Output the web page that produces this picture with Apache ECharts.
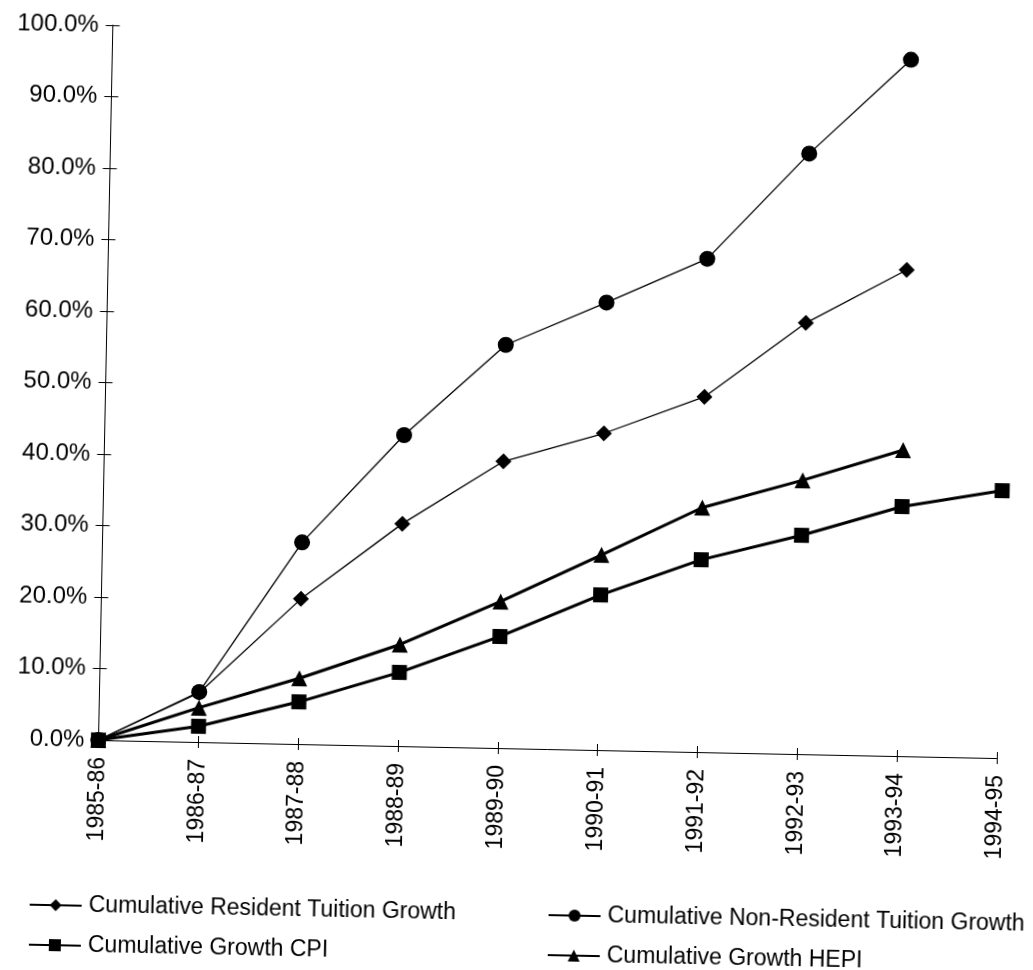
<!DOCTYPE html>
<html>
<head>
<meta charset="utf-8">
<script src="https://cdn.jsdelivr.net/npm/echarts@6/dist/echarts.min.js"></script>
<style>
  html, body { margin: 0; padding: 0; background: #fff; overflow: hidden; }
  #chart { width: 1033px; height: 970px; background: #fff;
           transform: rotate(1.15deg); transform-origin: 97px 740px; }
</style>
</head>
<body>
<div id="chart"></div>
<script>
const categories = ['1985-86','1986-87','1987-88','1988-89','1989-90','1990-91','1991-92','1992-93','1993-94','1994-95'];
const residentTuition = [0, 6.9, 20.3, 31.1, 40.1, 44.3, 49.7, 60.3, 68.0, null];
const nonResidentTuition = [0, 7.0, 28.2, 43.5, 56.4, 62.6, 69.0, 84.0, 97.4, null];
const growthCPI = [0, 2.2, 5.9, 10.3, 15.6, 21.7, 26.9, 30.6, 34.9, 37.4];
const growthHEPI = [0, 4.8, 9.2, 14.2, 20.5, 27.3, 34.2, 38.3, 42.8, null];
const yTicks = { min: 0, max: 100, interval: 10 };

const names = {
  res: 'Cumulative Resident Tuition Growth',
  non: 'Cumulative Non-Resident Tuition Growth',
  cpi: 'Cumulative Growth CPI',
  hepi: 'Cumulative Growth HEPI'
};

function hasFont(name) {
  const c = document.createElement('canvas').getContext('2d');
  const s = 'Cumulative Resident 1985-86';
  c.font = '40px monospace';
  const a = c.measureText(s).width;
  c.font = '40px "' + name + '", monospace';
  const b = c.measureText(s).width;
  return Math.abs(a - b) > 1;
}
const narrow = hasFont('Liberation Sans Narrow');
const legendFont = narrow ? { fontFamily: '"Liberation Sans Narrow", "Liberation Sans", Arial, sans-serif', fontSize: 28 }
                          : { fontFamily: '"Liberation Sans", Arial, sans-serif', fontSize: 23 };
const xLabFont = narrow ? { fontFamily: '"Liberation Sans Narrow", "Liberation Sans", Arial, sans-serif', fontSize: 28 }
                        : { fontFamily: '"Liberation Sans", Arial, sans-serif', fontSize: 23 };

const chart = echarts.init(document.getElementById('chart'), null, { renderer: 'canvas' });

const black = '#000';
const legendCommon = {
  orient: 'vertical',
  itemWidth: 52,
  itemHeight: 15,
  itemGap: 10,
  top: 886,
  textStyle: Object.assign({ color: black, lineHeight: 30, padding: [0, 0, 0, 2] }, legendFont),
  inactiveColor: '#000'
};

const option = {
  animation: false,
  backgroundColor: '#fff',
  grid: { left: 97, top: 25, width: 900, height: 715 },
  legend: [
    Object.assign({}, legendCommon, { left: 27, data: [names.res, names.cpi] }),
    Object.assign({}, legendCommon, { left: 546, data: [names.non, names.hepi] })
  ],
  xAxis: [
    {
      type: 'category', data: categories, boundaryGap: false,
      axisLine: { show: true, lineStyle: { color: black, width: 1 } },
      axisTick: { show: true, length: 6, interval: 0, lineStyle: { color: black } },
      axisLabel: Object.assign({ rotate: 90, interval: 0, margin: 17, color: black, padding: [0, 0, 13, 0] }, xLabFont),
      splitLine: { show: false }
    },
    {
      type: 'category', data: categories, boundaryGap: false, position: 'bottom',
      axisLine: { show: false },
      axisTick: { show: true, inside: true, length: 6, interval: 0, lineStyle: { color: black } },
      axisLabel: { show: false },
      splitLine: { show: false }
    }
  ],
  yAxis: [
    {
      type: 'value', min: yTicks.min, max: yTicks.max, interval: yTicks.interval,
      axisLine: { show: true, lineStyle: { color: black, width: 1 } },
      axisTick: { show: true, length: 7, lineStyle: { color: black } },
      axisLabel: {
        color: black, fontSize: 24, fontFamily: '"Liberation Sans", Arial, sans-serif', margin: 14,
        formatter: v => v.toFixed(1) + '%'
      },
      splitLine: { show: false }
    },
    {
      type: 'value', min: yTicks.min, max: yTicks.max, interval: yTicks.interval, position: 'left',
      axisLine: { show: false },
      axisTick: { show: true, inside: true, length: 7, lineStyle: { color: black } },
      axisLabel: { show: false },
      splitLine: { show: false }
    }
  ],
  series: [
    {
      name: names.res, type: 'line', data: residentTuition,
      symbol: 'diamond', symbolSize: 16, showAllSymbol: true,
      lineStyle: { color: black, width: 1.3 }, itemStyle: { color: black }
    },
    {
      name: names.non, type: 'line', data: nonResidentTuition,
      symbol: 'circle', symbolSize: 16, showAllSymbol: true,
      lineStyle: { color: black, width: 1.3 }, itemStyle: { color: black }
    },
    {
      name: names.hepi, type: 'line', data: growthHEPI,
      symbol: 'triangle', symbolSize: 16, showAllSymbol: true,
      lineStyle: { color: black, width: 3 }, itemStyle: { color: black }
    },
    {
      name: names.cpi, type: 'line', data: growthCPI,
      symbol: 'rect', symbolSize: 15, showAllSymbol: true,
      lineStyle: { color: black, width: 3 }, itemStyle: { color: black }
    }
  ]
};
chart.setOption(option);
</script>
</body>
</html>
